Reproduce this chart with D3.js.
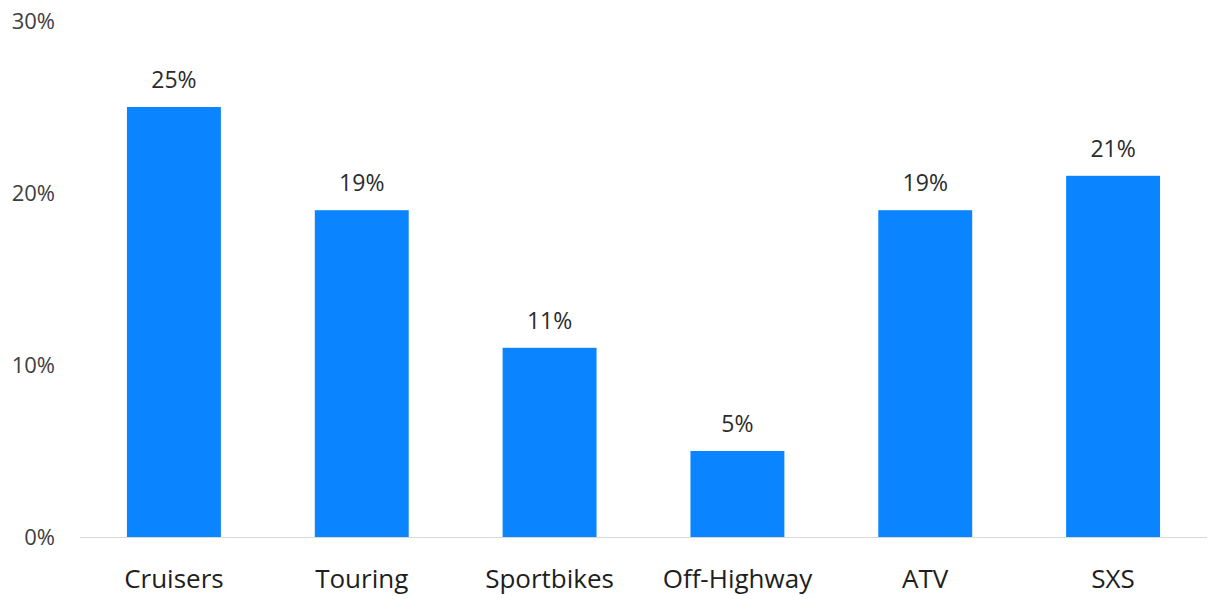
<!DOCTYPE html>
<html><head><meta charset="utf-8">
<script src="https://cdn.jsdelivr.net/npm/d3@7"></script>
<style>body{margin:0;background:#fff}svg{display:block}</style>
</head><body><svg id="c" width="1212" height="599"></svg>
<script>
const categories = ["Cruisers","Touring","Sportbikes","Off-Highway","ATV","SXS"];
const values = [25,19,11,5,19,21];
const yTicks = [0,10,20,30];

const svg = d3.select("#c");
const font = "'Open Sans', 'Noto Sans', sans-serif";
const x = d3.scaleBand().domain(categories).range([80,1207]).paddingInner(0.5).paddingOuter(0.25);
const y = d3.scaleLinear().domain([0,30]).range([537,21]);

svg.append("line").attr("x1",80).attr("x2",1207).attr("y1",y(0)+0.5).attr("y2",y(0)+0.5)
  .attr("stroke","#d9d9d9").attr("stroke-width",1);

svg.selectAll("rect.bar").data(values).enter().append("rect")
  .attr("x",(d,i)=>x(categories[i])).attr("width",x.bandwidth())
  .attr("y",d=>y(d)).attr("height",d=>y(0)-y(d)).attr("fill","#0A84FF");

svg.selectAll("text.val").data(values).enter().append("text")
  .attr("x",(d,i)=>x(categories[i])+x.bandwidth()/2).attr("y",d=>y(d)-19)
  .attr("text-anchor","middle").attr("font-family",font).attr("font-size",23).attr("fill","#2b2b2b")
  .text(d=>d+"%");

svg.selectAll("text.yt").data(yTicks).enter().append("text")
  .attr("x",55).attr("y",d=>y(d)).attr("dy","0.35em").attr("text-anchor","end")
  .attr("font-family",font).attr("font-size",22).attr("fill","#404040").text(d=>d+"%");

svg.selectAll("text.cat").data(categories).enter().append("text")
  .attr("x",d=>x(d)+x.bandwidth()/2).attr("y",579).attr("dy","0.35em").attr("text-anchor","middle")
  .attr("font-family",font).attr("font-size",26).attr("fill","#1e1e1e").text(d=>d);
</script></body></html>
